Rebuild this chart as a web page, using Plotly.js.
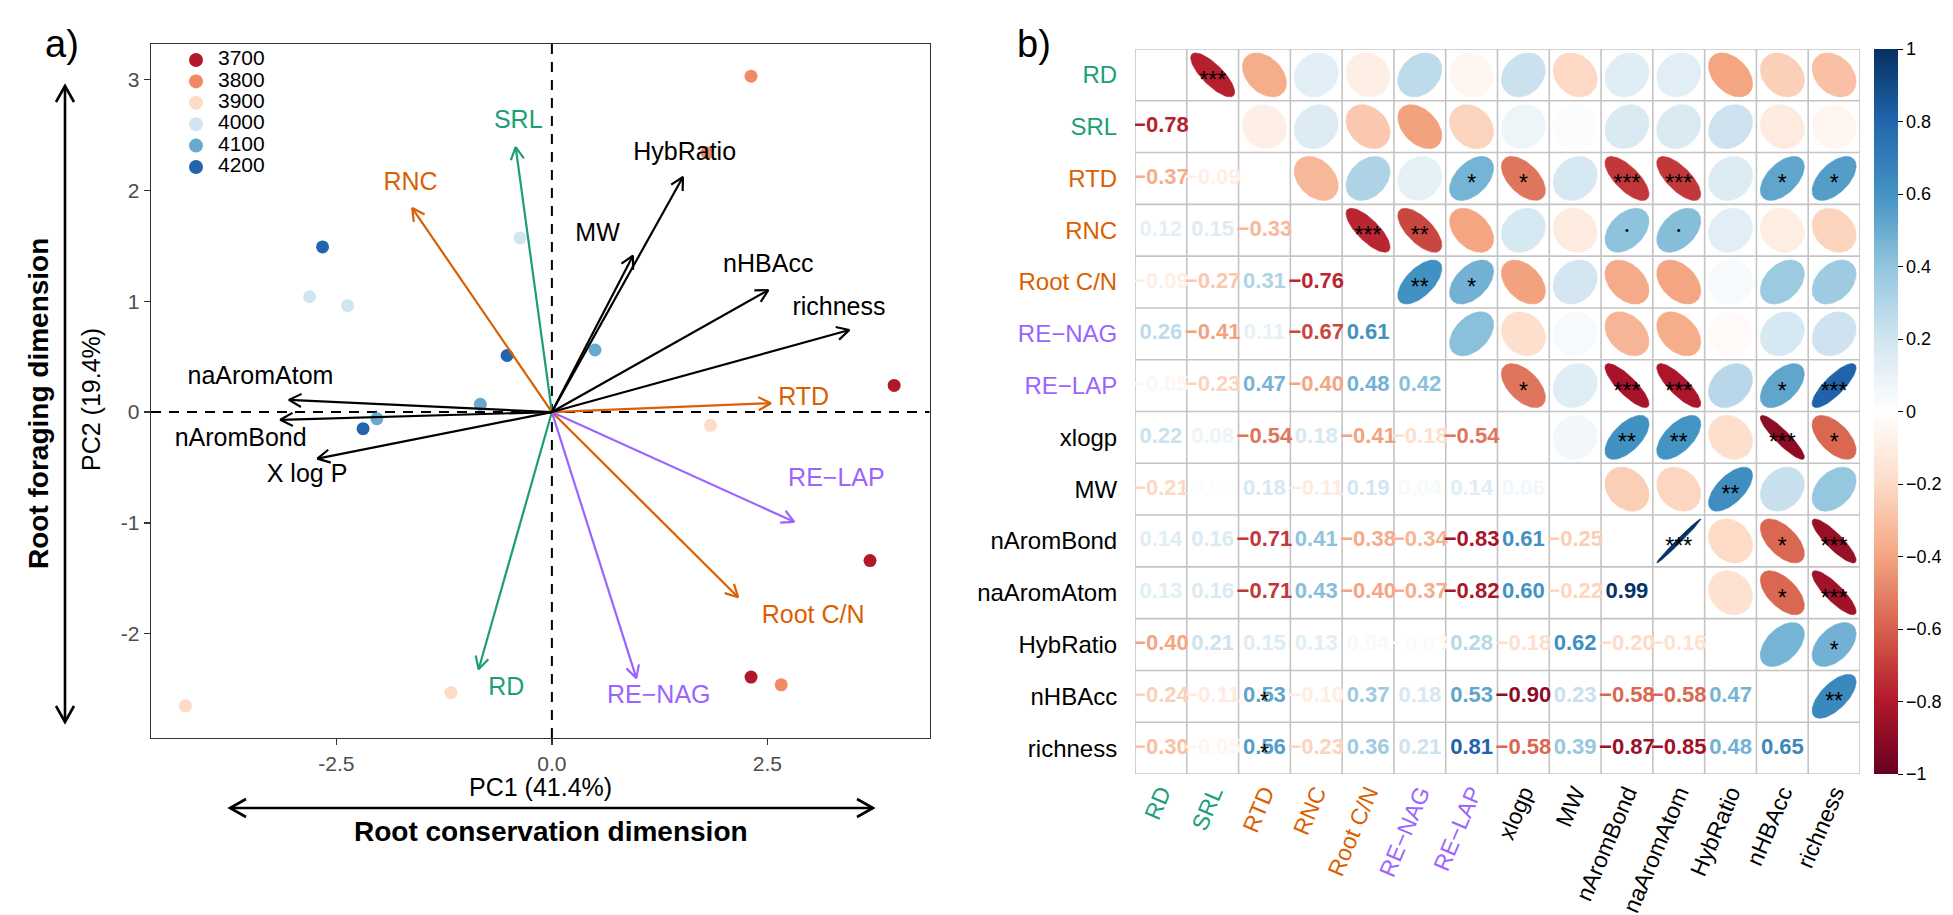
<!DOCTYPE html>
<html><head><meta charset="utf-8">
<script src="https://cdn.plot.ly/plotly-3.0.1.min.js"></script>
<style>html,body{margin:0;padding:0;background:#fff;}#chart{width:1953px;height:915px;}</style>
</head><body><div id="chart"></div>
<script>
// ================= DATA =================
// PCA sample scores (panel a)
const sampleGroup = ['3700','3700','3700','3800','3800','3800','3900','3900','3900','4000','4000','4000','4100','4100','4100','4200','4200','4200'];
const pc1 = [3.97, 3.69, 2.31, 2.31, 1.80, 2.66, 1.84, -1.17, -4.25, -2.81, -2.37, -0.37, -0.83, -2.03, 0.50, -2.66, -0.52, -2.19];
const pc2 = [0.24, -1.34, -2.39, 3.03, 2.34, -2.46, -0.12, -2.53, -2.65, 1.04, 0.96, 1.57, 0.07, -0.06, 0.56, 1.49, 0.51, -0.15];
const groupLevels = ['3700','3800','3900','4000','4100','4200'];

// PCA loadings (arrows)
const traitNames = ['SRL','RD','RNC','RTD','Root C/N','RE\u2212NAG','RE\u2212LAP','HybRatio','MW','nHBAcc','richness','naAromAtom','nAromBond','X log P'];
const loadPC1 = [-0.42, -0.85, -1.62, 2.54, 2.16, 0.98, 2.81, 1.52, 0.94, 2.51, 3.45, -3.05, -3.15, -2.72];
const loadPC2 = [2.39, -2.32, 1.84, 0.08, -1.67, -2.40, -0.99, 2.12, 1.41, 1.10, 0.74, 0.11, -0.07, -0.42];

// Correlation matrix (panel b), lower triangle rows
const corrVars = ['RD','SRL','RTD','RNC','Root C/N','RE\u2212NAG','RE\u2212LAP','xlogp','MW','nAromBond','naAromAtom','HybRatio','nHBAcc','richness'];
const corrLower = [
  [],
  [-0.78],
  [-0.37,-0.09],
  [0.12,0.15,-0.33],
  [-0.09,-0.27,0.31,-0.76],
  [0.26,-0.41,0.11,-0.67,0.61],
  [-0.05,-0.23,0.47,-0.40,0.48,0.42],
  [0.22,0.08,-0.54,0.18,-0.41,-0.18,-0.54],
  [-0.21,0.02,0.18,-0.11,0.19,0.04,0.14,0.06],
  [0.14,0.16,-0.71,0.41,-0.38,-0.34,-0.83,0.61,-0.25],
  [0.13,0.16,-0.71,0.43,-0.40,-0.37,-0.82,0.60,-0.22,0.99],
  [-0.40,0.21,0.15,0.13,0.04,-0.03,0.28,-0.18,0.62,-0.20,-0.16],
  [-0.24,-0.11,0.53,-0.10,0.37,0.18,0.53,-0.90,0.23,-0.58,-0.58,0.47],
  [-0.30,-0.05,0.56,-0.23,0.36,0.21,0.81,-0.58,0.39,-0.87,-0.85,0.48,0.65]
];
// significance marks (upper triangle)
const sigRow = ['RD','RTD','RTD','RTD','RTD','RTD','RTD','RNC','RNC','RNC','RNC','Root C/N','Root C/N','RE\u2212LAP','RE\u2212LAP','RE\u2212LAP','RE\u2212LAP','RE\u2212LAP','xlogp','xlogp','xlogp','xlogp','MW','nAromBond','nAromBond','nAromBond','naAromAtom','naAromAtom','HybRatio','nHBAcc'];
const sigCol = ['SRL','RE\u2212LAP','xlogp','nAromBond','naAromAtom','nHBAcc','richness','Root C/N','RE\u2212NAG','nAromBond','naAromAtom','RE\u2212NAG','RE\u2212LAP','xlogp','nAromBond','naAromAtom','nHBAcc','richness','nAromBond','naAromAtom','nHBAcc','richness','HybRatio','naAromAtom','nHBAcc','richness','nHBAcc','richness','richness','richness'];
const sigMark = ['***','*','*','***','***','*','*','***','**','\u2022','\u2022','**','*','*','***','***','*','***','**','**','***','*','**','***','*','***','*','***','*','**'];
// marks also printed in the lower triangle
const extraRow = ['nHBAcc','richness'];
const extraCol = ['RTD','RTD'];
const extraMark = ['*','*'];
const colorbarTicks = [-1,-0.8,-0.6,-0.4,-0.2,0,0.2,0.4,0.6,0.8,1];

// ================= STYLE / LAYOUT =================
const W = 1953, H = 915;
const FONT = 'Liberation Sans, Arial, Helvetica, sans-serif';
const GREEN = '#1B9E77', ORANGE = '#D95F02', PURPLE = '#9B63FF';
const groupColors = ['#B2182B','#EF8A62','#FDDBC7','#D1E5F0','#67A9CF','#2166AC'];
const traitColors = [GREEN, GREEN, ORANGE, ORANGE, ORANGE, PURPLE, PURPLE, '#000','#000','#000','#000','#000','#000','#000'];
const traitLabelPos = [[-0.39,2.62],[-0.53,-2.50],[-1.64,2.06],[2.92,0.12],[3.03,-1.85],[1.24,-2.57],[3.30,-0.61],[1.54,2.33],[0.53,1.60],[2.51,1.32],[3.33,0.93],[-3.38,0.31],[-3.61,-0.25],[-2.84,-0.57]];
const corrVarColors = [GREEN, GREEN, ORANGE, ORANGE, ORANGE, PURPLE, PURPLE, '#000','#000','#000','#000','#000','#000','#000'];

const pcaBox = {l:151, r:929.5, t:44, b:738};
const pcaXR = [-4.65, 4.38], pcaYR = [-2.94, 3.32];
const matBox = {l:1135, r:1860, t:49, b:774};
const fx = px => px / W;
const fy = py => 1 - py / H;

const rdbu = ['#67001F','#B2182B','#D6604D','#F4A582','#FDDBC7','#FFFFFF','#D1E5F0','#92C5DE','#4393C3','#2166AC','#053061'];
const hex2rgb = h => [parseInt(h.slice(1,3),16), parseInt(h.slice(3,5),16), parseInt(h.slice(5,7),16)];
function corrColor(r){
  const t = (r+1)/2*10; const i = Math.min(9, Math.floor(t)); const f = t - i;
  const a = hex2rgb(rdbu[i]), b = hex2rgb(rdbu[i+1]);
  const c = a.map((v,k)=>Math.round(v+(b[k]-v)*f));
  return `rgb(${c[0]},${c[1]},${c[2]})`;
}
function corr(i,j){ if(i===j) return 1; return i>j ? corrLower[i][j] : corrLower[j][i]; }
const fmt = r => (r<0?'\u2212':'') + Math.abs(r).toFixed(2);

const traces = [];

// ---- panel a: points ----
groupLevels.forEach((g,gi)=>{
  const xs=[], ys=[];
  sampleGroup.forEach((s,k)=>{ if(s===g){ xs.push(pc1[k]); ys.push(pc2[k]); } });
  traces.push({type:'scatter', mode:'markers', x:xs, y:ys, xaxis:'x', yaxis:'y',
    marker:{size:13, color:groupColors[gi], line:{width:0}}, hoverinfo:'skip'});
});

// ---- panel a: arrows ----
const kx = (pcaBox.r-pcaBox.l)/(pcaXR[1]-pcaXR[0]);
const ky = (pcaBox.b-pcaBox.t)/(pcaYR[1]-pcaYR[0]);
const headLen = 14, headAng = 28*Math.PI/180;
const colorGroups = [...new Set(traitColors)];
colorGroups.forEach(col=>{
  const xs=[], ys=[];
  traitNames.forEach((n,i)=>{
    if(traitColors[i]!==col) return;
    const u=loadPC1[i], v=loadPC2[i];
    xs.push(0,u,null); ys.push(0,v,null);
    const a = Math.atan2(v*ky, u*kx);
    const p1x = u - headLen*Math.cos(a+headAng)/kx, p1y = v - headLen*Math.sin(a+headAng)/ky;
    const p2x = u - headLen*Math.cos(a-headAng)/kx, p2y = v - headLen*Math.sin(a-headAng)/ky;
    xs.push(p1x,u,p2x,null); ys.push(p1y,v,p2y,null);
  });
  traces.push({type:'scatter', mode:'lines', x:xs, y:ys, xaxis:'x', yaxis:'y',
    line:{color:col, width:2.2}, hoverinfo:'skip', connectgaps:false});
});
traces.push({type:'scatter', mode:'text', xaxis:'x', yaxis:'y',
  x: traitLabelPos.map(p=>p[0]), y: traitLabelPos.map(p=>p[1]), text: traitNames,
  textposition:'middle center', textfont:{family:FONT, size:25, color:traitColors}, hoverinfo:'skip'});

// ---- panel a: legend (own axes) ----
traces.push({type:'scatter', mode:'markers', xaxis:'x3', yaxis:'y3',
  x: groupLevels.map(()=>0), y: groupLevels.map((g,i)=>i),
  marker:{size:14, color:groupColors}, hoverinfo:'skip'});
traces.push({type:'scatter', mode:'text', xaxis:'x3', yaxis:'y3',
  x: groupLevels.map(()=>1.1), y: groupLevels.map((g,i)=>i), text: groupLevels,
  textposition:'middle right', textfont:{family:FONT, size:21, color:'#000'}, hoverinfo:'skip'});

// ---- panel b: ellipses ----
const NE = 80;
for(let i=0;i<corrVars.length;i++){
  for(let j=i+1;j<corrVars.length;j++){
    const r = corr(i,j), d = Math.acos(r);
    const xs=[], ys=[];
    for(let k=0;k<=NE;k++){
      const t = 2*Math.PI*k/NE;
      xs.push(j+1 + 0.85*Math.cos(t+d/2)/2);
      ys.push(i+1 - 0.85*Math.cos(t-d/2)/2);
    }
    traces.push({type:'scatter', mode:'lines', x:xs, y:ys, xaxis:'x2', yaxis:'y2',
      fill:'toself', fillcolor:corrColor(r), line:{width:0.6, color:corrColor(r)}, hoverinfo:'skip'});
  }
}
// ---- panel b: numbers ----
{
  const xs=[], ys=[], tx=[], cs=[];
  for(let i=1;i<corrVars.length;i++) for(let j=0;j<i;j++){
    const r = corrLower[i][j];
    xs.push(j+1); ys.push(i+1); tx.push('<b>'+fmt(r)+'</b>'); cs.push(corrColor(r));
  }
  traces.push({type:'scatter', mode:'text', x:xs, y:ys, text:tx, xaxis:'x2', yaxis:'y2',
    textposition:'middle center', textfont:{family:FONT, size:22, color:cs}, hoverinfo:'skip'});
}
// ---- panel b: significance ----
{
  const rows = sigRow.concat(extraRow), cols = sigCol.concat(extraCol), marks = sigMark.concat(extraMark);
  const xs=[], ys=[], sz=[];
  marks.forEach((m,k)=>{
    const ri = corrVars.indexOf(rows[k]), ci = corrVars.indexOf(cols[k]);
    const star = m.indexOf('*')>=0;
    xs.push(ci+1); ys.push(ri+1 + (star ? 0.14 : 0.02)); sz.push(star ? 23 : 11);
  });
  traces.push({type:'scatter', mode:'text', x:xs, y:ys, text:marks, xaxis:'x2', yaxis:'y2',
    textposition:'middle center', textfont:{family:FONT, size:sz, color:'#000'}, hoverinfo:'skip'});
}
// ---- colorbar ----
traces.push({type:'scatter', mode:'markers', x:[1], y:[1], xaxis:'x2', yaxis:'y2', hoverinfo:'skip',
  marker:{size:1, opacity:0, color:[0], cmin:-1, cmax:1,
    colorscale: rdbu.map((c,i)=>[i/10,c]), showscale:true,
    colorbar:{thickness:24, thicknessmode:'pixels', len:matBox.b-matBox.t, lenmode:'pixels',
      x:fx(1874), xanchor:'left', y:fy((matBox.t+matBox.b)/2), yanchor:'middle',
      xpad:0, ypad:0, outlinewidth:0, tickmode:'array', tickvals:colorbarTicks,
      ticktext: colorbarTicks.map(v=> v===0?'0':(v<0?'\u2212':'')+String(Math.abs(v))),
      ticks:'outside', ticklen:5, tickwidth:1, tickcolor:'#000',
      tickfont:{family:FONT, size:18, color:'#000'}}}});

// ---- shapes ----
const shapes = [];
shapes.push({type:'line', xref:'x', yref:'y domain', x0:0, x1:0, y0:0, y1:1, layer:'below', line:{color:'#000', width:2, dash:'10px,8px'}});
shapes.push({type:'line', xref:'x domain', yref:'y', x0:0, x1:1, y0:0, y1:0, layer:'below', line:{color:'#000', width:2, dash:'10px,8px'}});
for(let k=0;k<=corrVars.length;k++){
  shapes.push({type:'line', xref:'x2', yref:'y2', x0:k+0.5, x1:k+0.5, y0:0.5, y1:corrVars.length+0.5, layer:'below', line:{color:'#C4C4C4', width:1.6}});
  shapes.push({type:'line', xref:'x2', yref:'y2', y0:k+0.5, y1:k+0.5, x0:0.5, x1:corrVars.length+0.5, layer:'below', line:{color:'#C4C4C4', width:1.6}});
}
// dimension arrows (paper)
function pth(pts){ return 'M'+pts.map(p=>fx(p[0])+','+fy(p[1])).join(' L'); }
const AL = {color:'#000', width:2.6};
const vA = {x:65, y0:86, y1:722}, hA = {y:808, x0:230, x1:873};
shapes.push({type:'path', xref:'paper', yref:'paper', path:pth([[vA.x,vA.y0],[vA.x,vA.y1]]), line:AL});
shapes.push({type:'path', xref:'paper', yref:'paper', path:pth([[vA.x-9,vA.y0+16],[vA.x,vA.y0],[vA.x+9,vA.y0+16]]), line:AL});
shapes.push({type:'path', xref:'paper', yref:'paper', path:pth([[vA.x-9,vA.y1-16],[vA.x,vA.y1],[vA.x+9,vA.y1-16]]), line:AL});
shapes.push({type:'path', xref:'paper', yref:'paper', path:pth([[hA.x0,hA.y],[hA.x1,hA.y]]), line:AL});
shapes.push({type:'path', xref:'paper', yref:'paper', path:pth([[hA.x0+16,hA.y-9],[hA.x0,hA.y],[hA.x0+16,hA.y+9]]), line:AL});
shapes.push({type:'path', xref:'paper', yref:'paper', path:pth([[hA.x1-16,hA.y-9],[hA.x1,hA.y],[hA.x1-16,hA.y+9]]), line:AL});

const ann = (text, px, py, size, extra) => Object.assign({text, x:fx(px), y:fy(py), xref:'paper', yref:'paper', showarrow:false,
  xanchor:'center', yanchor:'middle', font:{family:FONT, size, color:'#000'}}, extra||{});
const annotations = [
  ann('a)', 62, 44, 38),
  ann('b)', 1034, 44, 38),
  ann('PC1 (41.4%)', 540, 787, 25),
  ann('<b>Root conservation dimension</b>', 551, 831, 28),
  ann('PC2 (19.4%)', 91, 400, 25, {textangle:-90}),
  ann('<b>Root foraging dimension</b>', 38, 404, 28, {textangle:-90})
];

const span = (t,c) => `<span style="color:${c}">${t}</span>`;
const idx = corrVars.map((v,i)=>i+1);

const layout = {
  width:W, height:H, margin:{l:0,r:0,t:0,b:0}, paper_bgcolor:'#fff', plot_bgcolor:'rgba(0,0,0,0)',
  showlegend:false, hovermode:false, font:{family:FONT},
  xaxis:{domain:[fx(pcaBox.l), fx(pcaBox.r)], range:pcaXR, anchor:'y', showgrid:false, zeroline:false,
    showline:true, mirror:true, linecolor:'#333', linewidth:1.3, ticks:'outside', ticklen:6, tickwidth:1.3, tickcolor:'#333',
    tickmode:'array', tickvals:[-2.5,0,2.5], ticktext:['-2.5','0.0','2.5'], tickfont:{family:FONT, size:21, color:'#4D4D4D'}},
  yaxis:{domain:[fy(pcaBox.b), fy(pcaBox.t)], range:pcaYR, anchor:'x', showgrid:false, zeroline:false,
    showline:true, mirror:true, linecolor:'#333', linewidth:1.3, ticks:'outside', ticklen:6, tickwidth:1.3, tickcolor:'#333',
    tickmode:'array', tickvals:[-2,-1,0,1,2,3], ticktext:['-2','-1','0','1','2','3'], tickfont:{family:FONT, size:21, color:'#4D4D4D'}},
  xaxis2:{domain:[fx(matBox.l), fx(matBox.r)], range:[0.5, corrVars.length+0.5], anchor:'y2', showgrid:false, zeroline:false, showline:false,
    tickmode:'array', tickvals:idx, ticktext:corrVars.map((v,i)=>span(v,corrVarColors[i])), tickangle:-67,
    ticks:'', tickfont:{family:FONT, size:23}},
  yaxis2:{domain:[fy(matBox.b), fy(matBox.t)], range:[corrVars.length+0.5, 0.5], anchor:'x2', showgrid:false, zeroline:false, showline:false,
    tickmode:'array', tickvals:idx, ticktext:corrVars.map((v,i)=>span(v,corrVarColors[i])),
    ticks:'outside', ticklen:12, tickcolor:'rgba(0,0,0,0)', tickfont:{family:FONT, size:24}},
  xaxis3:{domain:[fx(176), fx(420)], range:[-1, 11.2], anchor:'y3', visible:false},
  yaxis3:{domain:[fy(177.7), fy(49.3)], range:[5.5,-0.5], anchor:'x3', visible:false},
  shapes:shapes, annotations:annotations
};

Plotly.newPlot('chart', traces, layout, {staticPlot:true, displayModeBar:false});
</script>
</body></html>
